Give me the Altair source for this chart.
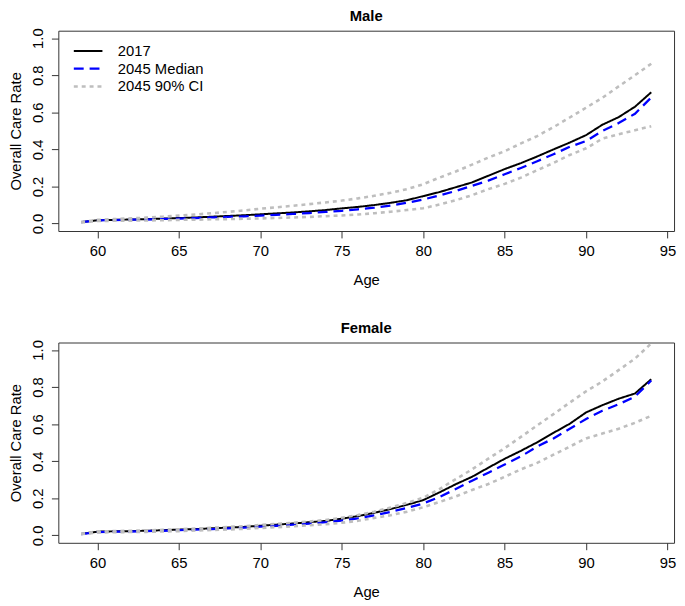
import altair as alt
import pandas as pd

FONT = "Liberation Sans, Arial, sans-serif"
FS = 15

ages = list(range(59, 95))

male_2017 = [0.008, 0.018, 0.020, 0.022, 0.024, 0.027, 0.030, 0.033, 0.037, 0.041,
             0.045, 0.050, 0.055, 0.060, 0.066, 0.073, 0.082, 0.090, 0.100, 0.112,
             0.126, 0.148, 0.170, 0.196, 0.222, 0.258, 0.294, 0.326, 0.362, 0.400,
             0.437, 0.477, 0.533, 0.574, 0.630, 0.708]
male_median = [0.008, 0.017, 0.019, 0.021, 0.022, 0.025, 0.027, 0.030, 0.033, 0.036,
               0.039, 0.043, 0.047, 0.052, 0.057, 0.063, 0.069, 0.077, 0.086, 0.097,
               0.112, 0.130, 0.152, 0.176, 0.204, 0.232, 0.266, 0.300, 0.336, 0.374,
               0.414, 0.445, 0.500, 0.542, 0.592, 0.680]
male_lower = [0.006, 0.014, 0.015, 0.016, 0.017, 0.018, 0.020, 0.021, 0.023, 0.024,
              0.026, 0.028, 0.030, 0.033, 0.036, 0.040, 0.044, 0.049, 0.056, 0.064,
              0.073, 0.083, 0.103, 0.126, 0.153, 0.186, 0.214, 0.248, 0.288, 0.327,
              0.370, 0.406, 0.458, 0.482, 0.503, 0.525]
male_upper = [0.009, 0.020, 0.024, 0.028, 0.032, 0.037, 0.043, 0.049, 0.056, 0.063,
              0.071, 0.080, 0.088, 0.096, 0.105, 0.114, 0.124, 0.136, 0.150, 0.166,
              0.186, 0.212, 0.248, 0.281, 0.318, 0.356, 0.390, 0.432, 0.472, 0.520,
              0.572, 0.625, 0.678, 0.740, 0.800, 0.862]

female_2017 = [0.008, 0.020, 0.022, 0.023, 0.025, 0.028, 0.031, 0.034, 0.038, 0.042,
               0.046, 0.052, 0.058, 0.064, 0.071, 0.078, 0.090, 0.104, 0.122, 0.142,
               0.165, 0.190, 0.232, 0.276, 0.316, 0.365, 0.413, 0.456, 0.502, 0.553,
               0.602, 0.663, 0.702, 0.737, 0.765, 0.842]
female_median = [0.007, 0.018, 0.020, 0.021, 0.023, 0.025, 0.028, 0.031, 0.034, 0.038,
                 0.042, 0.047, 0.052, 0.058, 0.064, 0.071, 0.080, 0.092, 0.108, 0.127,
                 0.148, 0.172, 0.207, 0.250, 0.295, 0.338, 0.382, 0.426, 0.479, 0.523,
                 0.575, 0.628, 0.672, 0.707, 0.748, 0.835]
female_lower = [0.006, 0.016, 0.017, 0.018, 0.019, 0.021, 0.023, 0.026, 0.029, 0.032,
                0.035, 0.040, 0.044, 0.049, 0.054, 0.060, 0.068, 0.079, 0.094, 0.109,
                0.128, 0.152, 0.180, 0.210, 0.245, 0.277, 0.316, 0.356, 0.391, 0.435,
                0.479, 0.523, 0.549, 0.575, 0.607, 0.645]
female_upper = [0.009, 0.021, 0.023, 0.025, 0.027, 0.030, 0.033, 0.037, 0.041, 0.045,
                0.050, 0.056, 0.062, 0.068, 0.075, 0.083, 0.095, 0.110, 0.128, 0.150,
                0.175, 0.203, 0.250, 0.303, 0.356, 0.414, 0.470, 0.531, 0.593, 0.654,
                0.716, 0.777, 0.830, 0.891, 0.953, 1.035]

series_names = ["2017", "2045 Median", "2045 90% CI"]
series_colors = ["#000000", "#0000ff", "#bebebe"]
series_dash = [[1, 0], [10, 6], [4, 4]]
series_width = [2, 2.6, 2.6]
x_ticks = [60, 65, 70, 75, 80, 85, 90, 95]
y_ticks = [0.0, 0.2, 0.4, 0.6, 0.8, 1.0]

W = 624
H = 203


def long_df(v2017, med, lo, hi):
    rows = []
    for name, line, vals in [("2017", "a", v2017), ("2045 Median", "b", med),
                             ("2045 90% CI", "c", lo), ("2045 90% CI", "d", hi)]:
        for a, v in zip(ages, vals):
            rows.append({"age": a, "rate": v, "series": name, "line": line})
    return pd.DataFrame(rows)


# wide horizontal line symbol (custom path in the -1..1 box, stretched)
legend = alt.Legend(
    title=None, orient="none", legendX=22.7, legendY=13, symbolType="M-3,0H3",
    symbolSize=93.4, labelFontSize=FS, labelFont=FONT, labelColor="black",
    labelOffset=22.6, rowPadding=2, padding=0, labelLimit=300,
)


def panel(title, df):
    return alt.Chart(df).mark_line(clip=True).encode(
        x=alt.X("age:Q", scale=alt.Scale(domain=[57.6, 95.4], nice=False, zero=False),
                axis=alt.Axis(values=x_ticks, format="d", tickSize=7, labelPadding=6,
                              domain=False, grid=False, title="Age", titlePadding=14,
                              labelFlush=False, labelAngle=0)),
        y=alt.Y("rate:Q", scale=alt.Scale(domain=[-0.04, 1.04], nice=False, zero=False),
                axis=alt.Axis(values=y_ticks, format=".1f", tickSize=7, labelPadding=9,
                              labelAngle=-90, labelAlign="center", labelBaseline="alphabetic",
                              domain=False, grid=False, title="Overall Care Rate",
                              titleX=-50, titleY=H / 2, titleAngle=-90, titleAlign="center",
                              titleBaseline="top", labelFlush=False)),
        color=alt.Color("series:N", scale=alt.Scale(domain=series_names, range=series_colors),
                        legend=legend),
        strokeDash=alt.StrokeDash("series:N", scale=alt.Scale(domain=series_names, range=series_dash),
                                  legend=legend),
        strokeWidth=alt.StrokeWidth("series:N", scale=alt.Scale(domain=series_names, range=series_width),
                                    legend=legend),
        detail="line:N",
    ).properties(
        width=W, height=H,
        title=alt.TitleParams(title, fontSize=FS, fontWeight="bold", font=FONT,
                              anchor="middle", frame="group", offset=4, color="black"),
    )


male = panel("Male", long_df(male_2017, male_median, male_lower, male_upper))
female = panel("Female", long_df(female_2017, female_median, female_lower, female_upper))

chart = alt.vconcat(male, female, spacing=32).properties(
    padding={"top": -4, "left": 0, "right": 0, "bottom": 0}
).configure_view(
    stroke="#333333", strokeWidth=1
).configure_axis(
    labelFont=FONT, titleFont=FONT, labelFontSize=FS, titleFontSize=FS,
    labelColor="black", titleColor="black", tickColor="#333333",
    titleFontWeight="normal", labelOverlap=False,
)

chart.save("out.html", embed_options={"renderer": "svg", "actions": False})
